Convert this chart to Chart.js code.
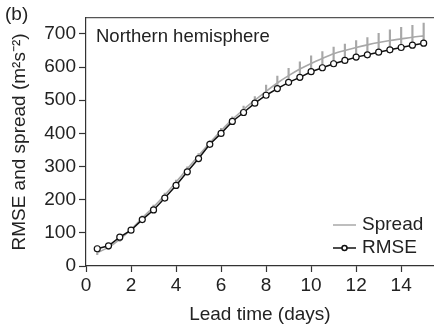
<!DOCTYPE html>
<html>
<head>
<meta charset="utf-8">
<script src="https://cdn.jsdelivr.net/npm/chart.js@4/dist/chart.umd.min.js"></script>
<style>
  html, body { margin: 0; padding: 0; background: #fff; }
  #wrap { position: relative; width: 439px; height: 324px; }
</style>
</head>
<body>
<div id="wrap"><canvas id="chart" width="439" height="324"></canvas></div>
<script>
// lead time (days)
const days = [0.5, 1, 1.5, 2, 2.5, 3, 3.5, 4, 4.5, 5, 5.5, 6, 6.5, 7, 7.5,
  8, 8.5, 9, 9.5, 10, 10.5, 11, 11.5, 12, 12.5, 13, 13.5, 14, 14.5, 15];

const rmse = [52, 61, 87, 108, 140, 169, 205, 243, 284, 324, 367, 400, 436, 463, 491,
  515, 535, 554, 569, 586, 598, 610, 620, 630, 637, 645, 652, 659, 666, 672];

const spread = [40, 56, 80, 110, 145, 178, 214, 253, 293, 333, 372, 408, 442, 472, 500,
  527, 552, 574, 594, 611, 626, 640, 650, 659, 667, 674, 680, 685, 690, 694];

// whiskers on the spread curve
const errLow = [34, 50, 74, 104, 139, 172, 208, 247, 287, 327, 366, 401, 436, 464, 491,
  515, 535, 554, 569, 586, 598, 610, 620, 630, 637, 645, 652, 659, 666, 672];
const errHigh = [46, 62, 86, 116, 151, 184, 220, 259, 299, 339, 378, 415, 450, 482, 511,
  546, 573, 596, 616, 634, 647, 660, 669, 680, 689, 702, 712, 720, 726, 733];

const yTicks = [0, 100, 200, 300, 400, 500, 600, 700];
const xTicks = [0, 2, 4, 6, 8, 10, 12, 14];

const FONT = "'Liberation Sans', Arial, sans-serif";
const TXT = '#222';
const AXIS = '#333';
const GRAY = '#a8a8a8';

const extras = {
  id: 'extras',
  afterDraw(chart) {
    const ctx = chart.ctx;
    ctx.save();
    ctx.fillStyle = TXT;
    ctx.font = `19px ${FONT}`;
    ctx.textBaseline = 'middle';
    ctx.textAlign = 'left';
    ctx.fillText('(b)', 5, 15);
    ctx.font = `18.5px ${FONT}`;
    ctx.textBaseline = 'alphabetic';
    ctx.fillText('Northern hemisphere', 96, 42);

    // legend
    ctx.font = `19px ${FONT}`;
    ctx.textBaseline = 'middle';
    ctx.strokeStyle = GRAY;
    ctx.lineWidth = 1.5;
    ctx.beginPath(); ctx.moveTo(333, 225); ctx.lineTo(356, 225); ctx.stroke();
    ctx.fillText('Spread', 362, 225);
    ctx.strokeStyle = '#111';
    ctx.beginPath(); ctx.moveTo(333, 248); ctx.lineTo(356, 248); ctx.stroke();
    ctx.fillStyle = '#fff';
    ctx.beginPath(); ctx.arc(344.5, 248, 2.5, 0, Math.PI * 2); ctx.fill(); ctx.stroke();
    ctx.fillStyle = TXT;
    ctx.fillText('RMSE', 362, 248);
    ctx.restore();
  }
};

new Chart(document.getElementById('chart'), {
  type: 'line',
  data: {
    datasets: [
      {
        type: 'line',
        label: 'RMSE',
        data: days.map((d, i) => ({ x: d, y: rmse[i] })),
        borderColor: '#111',
        borderWidth: 1.5,
        pointRadius: 3,
        pointBackgroundColor: '#fff',
        pointBorderColor: '#111',
        pointBorderWidth: 1.2,
        tension: 0,
        order: 0,
      },
      {
        type: 'line',
        label: 'Spread',
        data: days.map((d, i) => ({ x: d, y: spread[i] })),
        borderColor: GRAY,
        borderWidth: 1.6,
        pointRadius: 0,
        tension: 0.3,
        order: 1,
      },
      {
        type: 'bar',
        label: 'err',
        data: days.map((d, i) => ({ x: d, y: [errLow[i], errHigh[i]] })),
        backgroundColor: GRAY,
        borderWidth: 0,
        barThickness: 1.5,
        order: 2,
      },
    ],
  },
  options: {
    responsive: false,
    animation: false,
    layout: { padding: { left: 0, right: 0, top: 18, bottom: 0 } },
    plugins: { legend: { display: false }, tooltip: { enabled: false } },
    scales: {
      x: {
        type: 'linear',
        min: 0,
        max: 15.45,
        offset: false,
        afterBuildTicks: (s) => { s.ticks = xTicks.map((v) => ({ value: v })); },
        afterFit: (s) => { s.height = 58; },
        ticks: { color: TXT, font: { family: FONT, size: 19 }, padding: 2, maxRotation: 0 },
        grid: { display: true, offset: false, drawOnChartArea: false, tickLength: 6, color: AXIS, tickWidth: 1.2 },
        border: { display: true, color: AXIS, width: 1.2 },
        title: {
          display: true,
          text: 'Lead time (days)',
          color: TXT,
          font: { family: FONT, size: 19, lineHeight: 1 },
          padding: { top: 0, bottom: 0 },
        },
      },
      x2: {
        type: 'linear',
        position: 'top',
        min: 0,
        max: 15.45,
        offset: false,
        ticks: { display: false },
        grid: { display: false },
        border: { display: true, color: '#555', width: 1.2 },
        afterFit: (s) => { s.height = 0; },
      },
      y: {
        min: 0,
        max: 748,
        afterBuildTicks: (s) => { s.ticks = yTicks.map((v) => ({ value: v })); },
        afterFit: (s) => { s.width = 86; },
        ticks: { color: TXT, font: { family: FONT, size: 19 }, padding: 3 },
        grid: { display: true, drawOnChartArea: false, tickLength: 7, color: AXIS, tickWidth: 1.2 },
        border: { display: true, color: AXIS, width: 1.2 },
        title: {
          display: true,
          text: 'RMSE and spread (m²s⁻²)',
          color: TXT,
          font: { family: FONT, size: 19, lineHeight: 1 },
          padding: { top: 10, bottom: 0 },
        },
      },
    },
  },
  plugins: [extras],
});
</script>
</body>
</html>
